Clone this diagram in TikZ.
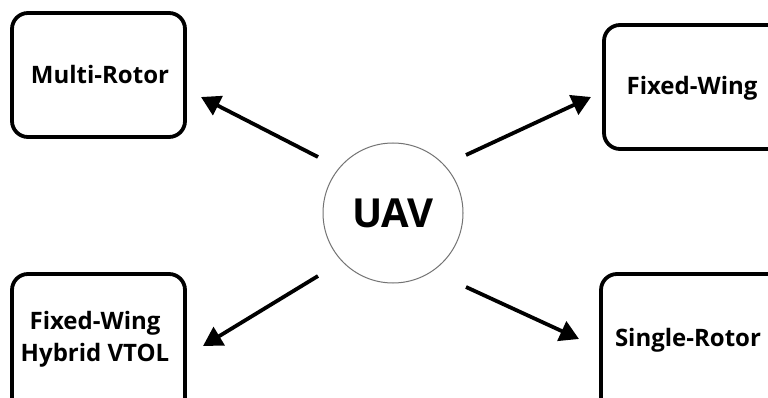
\documentclass[tikz,border=0pt]{standalone}
\usepackage{fontspec}
\setmainfont{Open Sans}
\usetikzlibrary{arrows.meta}
\begin{document}
\begin{tikzpicture}[x=1pt,y=-1pt,
  catbox/.style={draw=black,line width=3.8pt,rounded corners=16pt},
  lbl/.style={font=\bfseries\fontsize{24}{32}\selectfont,align=center,inner sep=0pt},
  conn/.style={line width=3.8pt,-{Triangle[length=19pt,width=21pt]}}]
\useasboundingbox (0,0) rectangle (768,398);
\clip (0,0) rectangle (768,398);
\fill[white] (0,0) rectangle (768,398);
% boxes
\draw[catbox] (12,13) rectangle (185,137);
\draw[catbox] (604,25) rectangle (800,149);
\draw[catbox] (12,274) rectangle (185,420);
\draw[catbox] (601,274) rectangle (800,420);
% labels
\node[lbl] (mr) at (100,75) {Multi-Rotor};
\node[lbl] (fw) at (692,88) {Fixed-Wing};
\node[lbl] (hy) at (95,339) {Fixed-Wing\\Hybrid VTOL};
\node[lbl] (sr) at (688,340) {Single-Rotor};
% centre
\node[draw=black!55,line width=1pt,circle,minimum size=140pt,inner sep=0pt,
      font=\bfseries\fontsize{40}{48}\selectfont] (uav) at (393,213) {UAV};
% arrow endpoints
\coordinate (a1) at (318,157); \coordinate (t1) at (201,97);
\coordinate (a2) at (466,155); \coordinate (t2) at (591,97);
\coordinate (a3) at (318,276); \coordinate (t3) at (203,346);
\coordinate (a4) at (466,287); \coordinate (t4) at (579,339);
\draw[conn] (a1) -- (t1);
\draw[conn] (a2) -- (t2);
\draw[conn] (a3) -- (t3);
\draw[conn] (a4) -- (t4);
\end{tikzpicture}
\end{document}
